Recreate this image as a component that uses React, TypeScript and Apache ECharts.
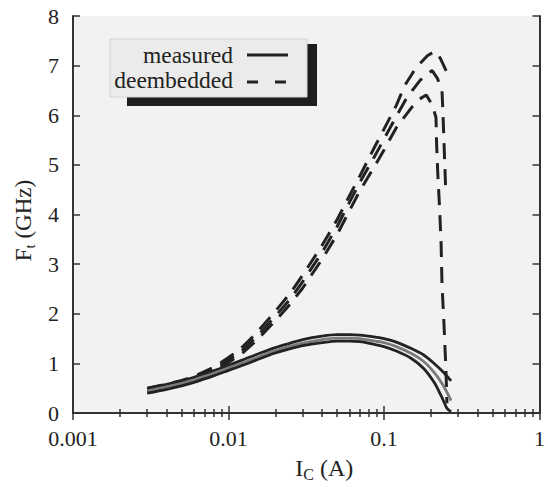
import React, { useEffect, useRef } from "react";
import * as echarts from "echarts";

// X tick labels (log axis, decades)
const xTickLabels = ["0.001", "0.01", "0.1", "1"];
const yTickMin = 0;
const yTickMax = 8;

// Measured (solid) curves
const m1X = [0.003, 0.004, 0.005, 0.006, 0.008, 0.01, 0.013, 0.016, 0.02, 0.025, 0.03, 0.04, 0.05, 0.06, 0.07, 0.088, 0.1, 0.12, 0.15, 0.18, 0.21, 0.24, 0.27];
const m1Y = [0.5, 0.58, 0.65, 0.72, 0.85, 0.96, 1.1, 1.21, 1.32, 1.41, 1.48, 1.55, 1.58, 1.58, 1.57, 1.53, 1.5, 1.43, 1.3, 1.17, 1.0, 0.83, 0.65];
const m2X = [0.003, 0.004, 0.005, 0.006, 0.008, 0.01, 0.013, 0.016, 0.02, 0.025, 0.03, 0.04, 0.05, 0.06, 0.07, 0.088, 0.1, 0.12, 0.15, 0.18, 0.21, 0.24, 0.27];
const m2Y = [0.45, 0.53, 0.6, 0.67, 0.8, 0.91, 1.04, 1.15, 1.26, 1.35, 1.41, 1.48, 1.51, 1.51, 1.5, 1.45, 1.42, 1.34, 1.2, 1.04, 0.82, 0.56, 0.25];
const m3X = [0.003, 0.004, 0.005, 0.006, 0.008, 0.01, 0.013, 0.016, 0.02, 0.025, 0.03, 0.04, 0.05, 0.06, 0.07, 0.088, 0.1, 0.12, 0.15, 0.18, 0.21, 0.233, 0.245, 0.255, 0.27];
const m3Y = [0.4, 0.48, 0.55, 0.62, 0.75, 0.86, 0.99, 1.1, 1.21, 1.3, 1.36, 1.42, 1.45, 1.45, 1.44, 1.38, 1.34, 1.25, 1.1, 0.9, 0.62, 0.35, 0.2, 0.09, 0.03];

// Deembedded (dashed) curves
const d1X = [0.003, 0.004, 0.005, 0.006, 0.008, 0.01, 0.012, 0.015, 0.02, 0.025, 0.03, 0.04, 0.05, 0.06, 0.07, 0.088, 0.1, 0.12, 0.136, 0.16, 0.19, 0.213, 0.23, 0.254];
const d1Y = [0.5, 0.58, 0.66, 0.74, 0.92, 1.12, 1.3, 1.6, 2.05, 2.42, 2.78, 3.38, 3.9, 4.38, 4.78, 5.39, 5.72, 6.2, 6.6, 6.95, 7.2, 7.29, 7.15, 6.86];
const d2X = [0.003, 0.004, 0.005, 0.006, 0.008, 0.01, 0.012, 0.015, 0.02, 0.025, 0.03, 0.04, 0.05, 0.06, 0.07, 0.088, 0.1, 0.12, 0.14, 0.17, 0.19, 0.204, 0.22, 0.236, 0.239, 0.25];
const d2Y = [0.46, 0.54, 0.62, 0.7, 0.88, 1.07, 1.24, 1.52, 1.95, 2.3, 2.65, 3.24, 3.76, 4.25, 4.65, 5.2, 5.52, 5.98, 6.35, 6.7, 6.84, 6.9, 6.75, 6.5, 6.1, 4.4];
const d3X = [0.003, 0.004, 0.005, 0.006, 0.008, 0.01, 0.012, 0.015, 0.02, 0.025, 0.03, 0.04, 0.05, 0.06, 0.07, 0.088, 0.1, 0.12, 0.15, 0.17, 0.187, 0.205, 0.216, 0.218, 0.222, 0.228, 0.233, 0.236, 0.243, 0.25, 0.254];
const d3Y = [0.42, 0.5, 0.58, 0.66, 0.84, 1.02, 1.18, 1.45, 1.86, 2.2, 2.52, 3.1, 3.6, 4.08, 4.48, 5.0, 5.3, 5.75, 6.15, 6.33, 6.41, 6.2, 5.95, 5.4, 4.8, 4.1, 3.4, 2.6, 1.8, 0.9, 0.2];

const legendLabels = ["measured", "deembedded"];

const FONT = "'Liberation Serif', 'Times New Roman', serif";
const INK = "#222";

const zip = (xs: number[], ys: number[]) => xs.map((x, i) => [x, ys[i]]);

export default function App() {
  const ref = useRef<HTMLDivElement>(null);
  useEffect(() => {
    if (!ref.current) return;
    const chart = echarts.init(ref.current, undefined, { renderer: "svg" });
    const dash = [16, 10];
    const solid = (name: string, xs: number[], ys: number[], color: string) => ({
      type: "line",
      name,
      data: zip(xs, ys),
      showSymbol: false,
      smooth: 0.3,
      lineStyle: { color, width: 2.8 },
      z: 3,
    });
    const dashed = (name: string, xs: number[], ys: number[]) => ({
      type: "line",
      name,
      data: zip(xs, ys),
      showSymbol: false,
      smooth: false,
      lineStyle: { color: INK, width: 3, type: dash },
      z: 2,
    });
    const xAxisBase = {
      type: "log",
      logBase: 10,
      min: 0.001,
      max: 1,
      axisLine: { show: true, lineStyle: { color: "#333", width: 2 } },
      axisTick: { show: true, inside: true, length: 7, lineStyle: { color: "#333", width: 1.5 } },
      minorTick: { show: true, splitNumber: 9, length: 4, lineStyle: { color: "#333", width: 1.5 } },
      splitLine: { show: false },
      minorSplitLine: { show: false },
    };
    const yAxisBase = {
      type: "value",
      min: yTickMin,
      max: yTickMax,
      interval: 1,
      axisLine: { show: true, lineStyle: { color: "#333", width: 2 } },
      axisTick: { show: true, inside: true, length: 7, lineStyle: { color: "#333", width: 1.5 } },
      splitLine: { show: false },
    };
    const option = {
      animation: false,
      backgroundColor: "#ffffff",
      grid: {
        left: 73,
        right: 1,
        top: 16,
        bottom: 62,
        show: true,
        backgroundColor: "#f2f2f2",
        borderWidth: 0,
      },
      xAxis: [
        {
          ...xAxisBase,
          position: "bottom",
          axisLabel: {
            show: true,
            margin: 14,
            color: INK,
            fontFamily: FONT,
            fontSize: 22,
            formatter: (v: number) => {
              const idx = Math.round(Math.log10(v) + 3);
              return xTickLabels[idx] ?? String(v);
            },
          },
          name: "I{s|C} (A)",
          nameLocation: "middle",
          nameGap: 35,
          nameTextStyle: {
            color: INK,
            fontFamily: FONT,
            fontSize: 24,
            lineHeight: 28,
            padding: [0, 0, 0, 36],
            rich: {
              s: { fontFamily: FONT, fontSize: 16, color: INK, verticalAlign: "bottom", lineHeight: 15 },
            },
          },
        },
        {
          ...xAxisBase,
          position: "top",
          axisLabel: { show: false },
        },
      ],
      yAxis: [
        {
          ...yAxisBase,
          position: "left",
          axisLabel: { show: true, margin: 14, color: INK, fontFamily: FONT, fontSize: 22 },
          name: "F{s|t} (GHz)",
          nameLocation: "middle",
          nameGap: 36,
          nameTextStyle: {
            color: INK,
            fontFamily: FONT,
            fontSize: 23,
            lineHeight: 28,
            padding: [0, 12, 0, 0],
            rich: {
              s: { fontFamily: FONT, fontSize: 15, color: INK, verticalAlign: "bottom", lineHeight: 15 },
            },
          },
        },
        {
          ...yAxisBase,
          position: "right",
          axisLabel: { show: false },
        },
      ],
      series: [
        dashed("deembedded 1", d1X, d1Y),
        dashed("deembedded 2", d2X, d2Y),
        dashed("deembedded 3", d3X, d3Y),
        solid("measured 1", m1X, m1Y, INK),
        solid("measured 2", m2X, m2Y, "#7a7a7a"),
        solid("measured 3", m3X, m3Y, INK),
      ],
      graphic: [
        { type: "rect", shape: { x: 307, y: 44, width: 10, height: 62 }, style: { fill: "#1e1e1e" }, z: 10 },
        { type: "rect", shape: { x: 127, y: 97, width: 190, height: 9 }, style: { fill: "#1e1e1e" }, z: 10 },
        { type: "rect", shape: { x: 110, y: 39, width: 197, height: 58 }, style: { fill: "#ebebeb", stroke: "#d2d2d2", lineWidth: 1 }, z: 11 },
        { type: "text", x: 233, y: 55, style: { text: legendLabels[0], fill: INK, font: `23.5px ${FONT}`, align: "right", verticalAlign: "middle" }, z: 12 },
        { type: "text", x: 233, y: 80, style: { text: legendLabels[1], fill: INK, font: `23.5px ${FONT}`, align: "right", verticalAlign: "middle" }, z: 12 },
        { type: "line", shape: { x1: 247, y1: 55, x2: 288, y2: 55 }, style: { stroke: INK, lineWidth: 2.8 }, z: 12 },
        { type: "line", shape: { x1: 247, y1: 82, x2: 288, y2: 82 }, style: { stroke: INK, lineWidth: 2.8, lineDash: [11, 17] }, z: 12 },
      ],
    };
    chart.setOption(option as any);
    return () => chart.dispose();
  }, []);
  return (
    <div
      ref={ref}
      style={{ position: "fixed", left: 0, top: 0, width: 548, height: 487, background: "#fff" }}
    />
  );
}
